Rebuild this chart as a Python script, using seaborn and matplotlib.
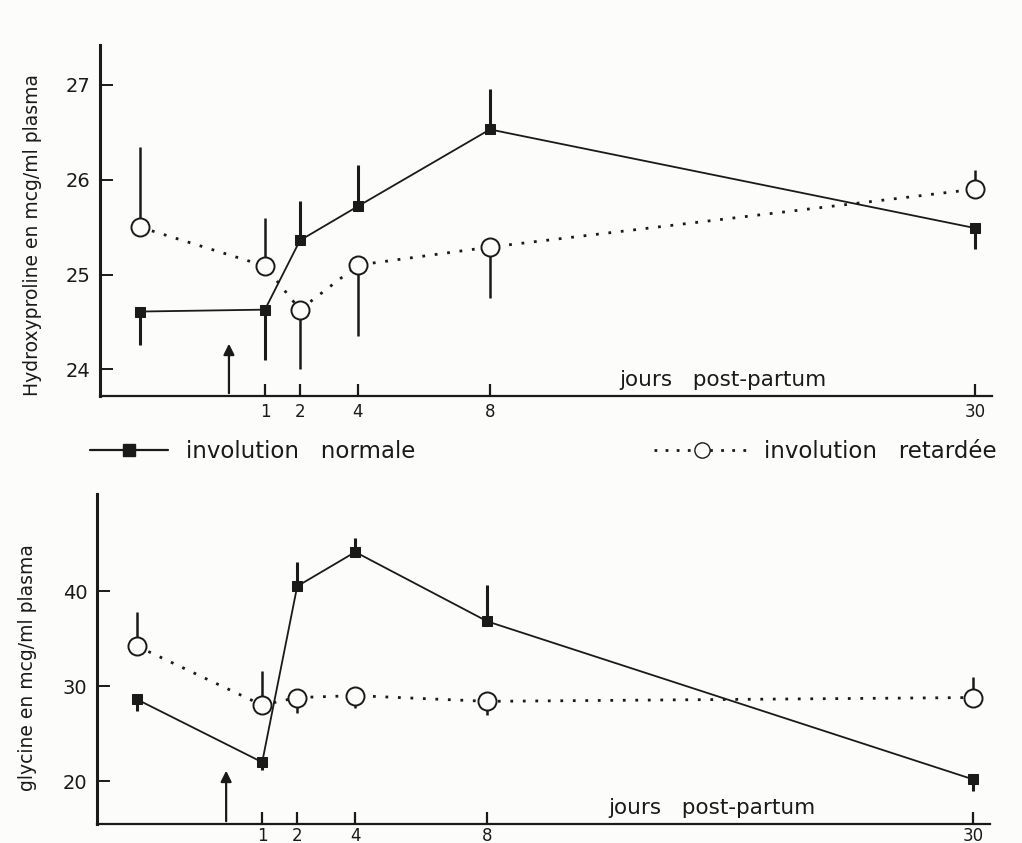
import numpy as np
import pandas as pd
import seaborn as sns
import matplotlib.pyplot as plt
from matplotlib.lines import Line2D

# jours (avant la parturition = -3)
days = [-3, 1, 2, 4, 8, 30]
tick_days = [1, 2, 4, 8, 30]

# hydroxyproline (mcg/ml plasma)
hyp_normal = [24.61, 24.63, 25.36, 25.72, 26.53, 25.49]
hyp_normal_lo = [0.35, 0.53, 0, 0, 0, 0.22]
hyp_normal_hi = [0, 0, 0.42, 0.44, 0.43, 0]
hyp_retard = [25.50, 25.09, 24.63, 25.10, 25.29, 25.90]
hyp_retard_lo = [0, 0, 0.63, 0.75, 0.54, 0]
hyp_retard_hi = [0.85, 0.51, 0, 0, 0, 0.20]

# glycine (mcg/ml plasma)
gly_normal = [28.6, 22.0, 40.5, 44.1, 36.8, 20.2]
gly_normal_lo = [1.2, 0.8, 0, 0, 0, 1.2]
gly_normal_hi = [0, 0, 2.5, 1.5, 3.8, 0]
gly_retard = [34.2, 28.0, 28.8, 29.0, 28.4, 28.8]
gly_retard_lo = [0, 0, 1.6, 1.3, 1.4, 0]
gly_retard_hi = [3.6, 3.6, 0, 0, 0, 2.2]

# echelle des abscisses (non lineaire, dessinee a la main)
day_knots = [-5, -3, 0, 1, 2, 4, 8, 30, 31]
pos_knots = [100, 140, 229, 265, 300, 358, 490, 975, 992]


def fwd(d):
    return np.interp(d, day_knots, pos_knots)


def inv(p):
    return np.interp(p, pos_knots, day_knots)


sns.set_theme(style="white")
plt.rcParams['font.family'] = ['DejaVu Sans']
INK = '#1a1a1a'
BG = '#fcfcfa'

fig = plt.figure(figsize=(10.22, 8.43), dpi=100, facecolor=BG)
ax_top = fig.add_axes([0.0978, 0.5303, 0.8728, 0.4163], facecolor=BG)
ax_bot = fig.add_axes([0.0949, 0.0225, 0.8738, 0.3915], facecolor=BG)


def draw_panel(ax, normal, n_lo, n_hi, retard, r_lo, r_hi, ylim, yticks, ylabel,
               arrow_tip, lab_xy, txt_xy, xpad):
    df_n = pd.DataFrame({'jour': days, 'valeur': normal})
    df_r = pd.DataFrame({'jour': days, 'valeur': retard})
    ax.errorbar(days, normal, yerr=np.array([n_lo, n_hi]), fmt='none',
                ecolor=INK, elinewidth=2.2, capsize=0, zorder=1.5)
    ax.errorbar(days, retard, yerr=np.array([r_lo, r_hi]), fmt='none',
                ecolor=INK, elinewidth=1.8, capsize=0, zorder=1.5)
    sns.lineplot(data=df_n, x='jour', y='valeur', ax=ax, color=INK, lw=1.3,
                 marker='s', markersize=7.5, markeredgecolor=INK, zorder=3)
    sns.lineplot(data=df_r, x='jour', y='valeur', ax=ax, color=INK, lw=2.0,
                 linestyle=(0, (1, 3.5)), marker='o', markersize=13,
                 markerfacecolor=BG, markeredgecolor=INK, markeredgewidth=1.4, zorder=3)
    ax.set_xscale('function', functions=(fwd, inv))
    ax.set_xlim(-5, 31)
    ax.set_ylim(*ylim)
    ax.set_xticks(tick_days)
    ax.set_xticklabels([str(d) for d in tick_days])
    ax.set_yticks(yticks)
    ax.tick_params(axis='x', direction='in', length=9, width=1.6, color=INK,
                   labelsize=12, labelcolor=INK, pad=xpad, bottom=True)
    ax.tick_params(axis='y', direction='in', length=9, width=1.4, color=INK,
                   labelsize=14, labelcolor=INK, pad=7, left=True)
    for side in ['top', 'right']:
        ax.spines[side].set_visible(False)
    ax.spines['left'].set_linewidth(2.2)
    ax.spines['bottom'].set_linewidth(1.6)
    ax.spines['left'].set_color(INK)
    ax.spines['bottom'].set_color(INK)
    ax.set_xlabel('')
    ax.set_ylabel(ylabel, fontsize=13.5, color=INK)
    ax.yaxis.set_label_coords(*lab_xy)
    ax.annotate('', xy=(0, arrow_tip), xytext=(0, ylim[0]),
                arrowprops=dict(arrowstyle='-|>', color=INK, lw=1.6, mutation_scale=16))
    ax.text(txt_xy[0], txt_xy[1], 'jours   post-partum', transform=ax.transAxes,
            ha='center', va='center', fontsize=15.5, color=INK)


draw_panel(ax_top, hyp_normal, hyp_normal_lo, hyp_normal_hi,
           hyp_retard, hyp_retard_lo, hyp_retard_hi,
           (23.72, 27.42), [24, 25, 26, 27], 'Hydroxyproline en mcg/ml plasma',
           24.3, (-0.065, 0.459), (0.698, 0.045), 5)
draw_panel(ax_bot, gly_normal, gly_normal_lo, gly_normal_hi,
           gly_retard, gly_retard_lo, gly_retard_hi,
           (15.5, 50.2), [20, 30, 40], 'glycine en mcg/ml plasma',
           21.4, (-0.067, 0.473), (0.689, 0.05), 2)

# legende commune entre les deux panneaux
h_norm = Line2D([], [], color=INK, lw=1.6, marker='s', markersize=8)
h_ret = Line2D([], [], color=INK, lw=2.0, linestyle=(0, (1, 3)), marker='o',
               markersize=11, markerfacecolor=BG, markeredgecolor=INK)
fig.legend([h_norm], ['involution   normale'], loc='center left',
           bbox_to_anchor=(0.088, 0.464), frameon=False, fontsize=16.5,
           handlelength=3.4, handletextpad=0.8, borderpad=0, borderaxespad=0,
           labelcolor=INK)
fig.legend([h_ret], ['involution   retardée'], loc='center right',
           bbox_to_anchor=(0.975, 0.464), frameon=False, fontsize=16.5,
           handlelength=4.2, handletextpad=0.6, borderpad=0, borderaxespad=0,
           labelcolor=INK)

fig.savefig('out.png', dpi=100, facecolor=BG)
